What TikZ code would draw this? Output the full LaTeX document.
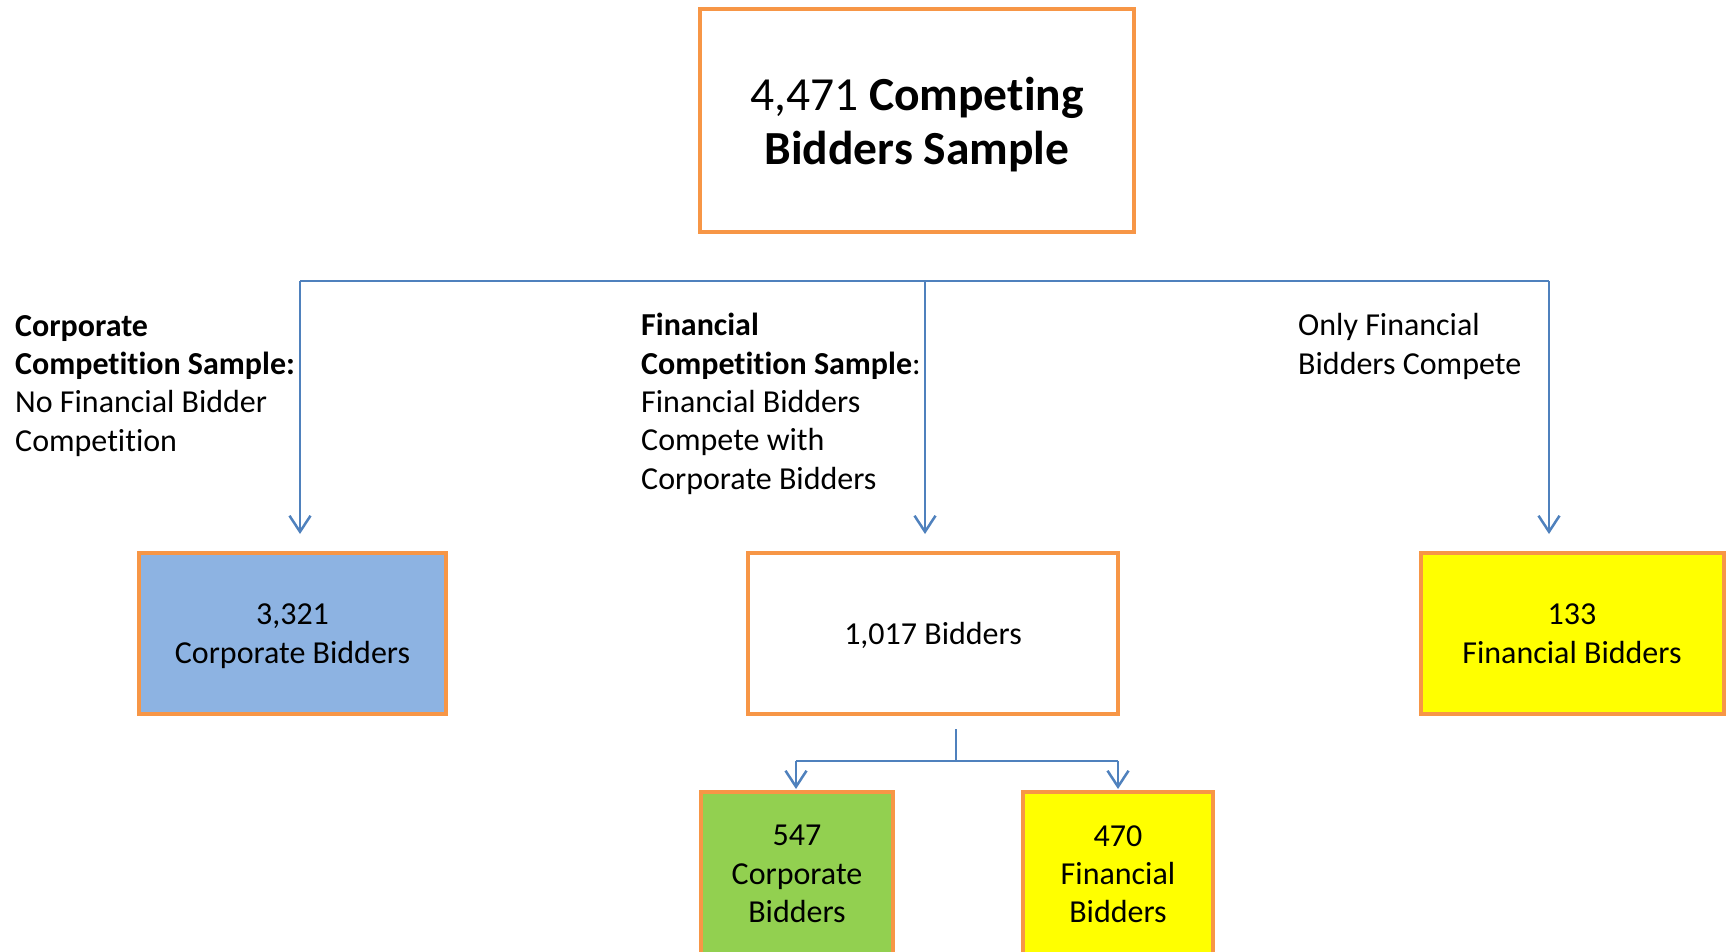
\documentclass[tikz,border=0pt]{standalone}
\usepackage{fontspec}
\setmainfont{Carlito}[Ligatures={NoCommon}]
\usetikzlibrary{arrows.meta}
\definecolor{borange}{HTML}{F79646}
\definecolor{lblue}{HTML}{4F81BD}
\definecolor{fblue}{HTML}{8DB3E2}
\definecolor{fgreen}{HTML}{92D050}
\definecolor{fyellow}{HTML}{FFFF00}
\newcommand{\Cmpt}{Compet\kern0pt it\kern0pt ion}
\begin{document}
\begin{tikzpicture}[x=1pt,y=-1pt,
  box/.style={draw=borange,line width=4pt,rectangle,inner sep=0pt,align=center,
              text depth=0pt,font=\fontsize{32}{38.3}\selectfont},
  conn/.style={draw=lblue,line width=2.5pt},
  arr/.style={conn,-{Straight Barb[length=16pt,width=21pt,line width=2.5pt]}},
  lbl/.style={anchor=base west,align=left,inner sep=0pt,
              font=\fontsize{32}{38.3}\selectfont}]
\useasboundingbox (0,0) rectangle (1726,952);
\clip (0,0) rectangle (1726,952);
\fill[white] (0,0) rectangle (1726,952);

% top box
\node[box,minimum width=434pt,minimum height=223pt,
      font=\fontsize{47.5}{54}\selectfont] (T) at (917,120.5)
  {4,471 \textbf{Competing}\\\textbf{Bidders Sample}};

% second row
\node[box,fill=fblue,minimum width=307pt,minimum height=161pt] (L) at (292.5,633.5)
  {3,321\\Corporate Bidders};
\node[box,fill=white,minimum width=370pt,minimum height=161pt] (M) at (933,633.5)
  {1,017 Bidders};
\node[box,fill=fyellow,minimum width=303pt,minimum height=161pt] (R) at (1572,633.5)
  {133\\Financial Bidders};

% third row
\node[box,fill=fgreen,minimum width=192pt,minimum height=164pt] (G) at (797,874)
  {547\\Corporate\\Bidders};
\node[box,fill=fyellow,minimum width=190pt,minimum height=164pt] (Y) at (1118,874)
  {470\\Financial\\Bidders};

% labels (anchored at the baseline of their last line)
\node[lbl] (lc) at (15,451)
  {\textbf{Corporate}\\\textbf{\Cmpt{} Sample:}\\No Financial Bidder\\\Cmpt};
\node[lbl] (lf) at (641,489)
  {\textbf{Financial}\\\textbf{\Cmpt{} Sample}:\\Financial Bidders\\Compete with\\Corporate Bidders};
\node[lbl] (lo) at (1298,374)
  {Only Financial\\Bidders Compete};

% top bus
\coordinate (bL) at (300,281);
\coordinate (bM) at (925,281);
\coordinate (bR) at (1549,281);
\draw[conn] (bL) -- (bR);
\draw[arr,shorten >=17pt] (bL) -- (bL |- L.north);
\draw[arr,shorten >=17pt] (bM) -- (bM |- M.north);
\draw[arr,shorten >=17pt] (bR) -- (bR |- R.north);

% lower bus
\coordinate (s1) at (956,729);
\coordinate (s2) at (956,761);
\coordinate (c1) at (796,761);
\coordinate (c2) at (1118,761);
\draw[conn] (s1) -- (s2);
\draw[conn] (c1) -- (c2);
\draw[arr,shorten >=1pt] (c1) -- (c1 |- G.north);
\draw[arr,shorten >=1pt] (c2) -- (c2 |- Y.north);
\end{tikzpicture}
\end{document}
